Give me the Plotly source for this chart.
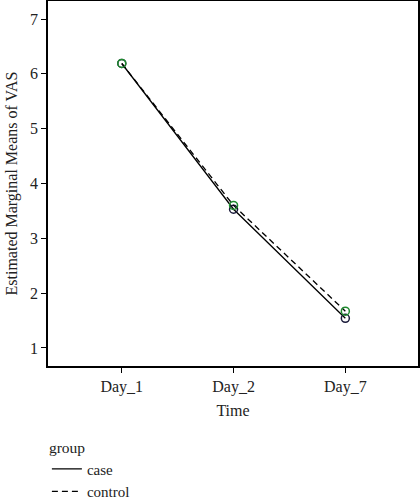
import plotly.graph_objects as go

time_labels = ["Day_1", "Day_2", "Day_7"]
case_values = [6.19, 3.53, 1.54]
control_values = [6.19, 3.60, 1.67]
y_ticks = [1, 2, 3, 4, 5, 6, 7]

FONT = "Liberation Serif"
xpos = list(range(len(time_labels)))

fig = go.Figure()
fig.add_trace(go.Scatter(
    x=xpos, y=case_values, mode="lines+markers", name="case", showlegend=False,
    line=dict(color="black", width=1.3, dash="solid"),
    marker=dict(symbol="circle-open", size=8, color="#1a1a3a", line=dict(width=1.5)),
))
fig.add_trace(go.Scatter(
    x=xpos, y=control_values, mode="lines+markers", name="control", showlegend=False,
    line=dict(color="black", width=1.3, dash="6px,4px"),
    marker=dict(symbol="circle-open", size=8, color="#1e8a2e", line=dict(width=1.5)),
))
# legend entries (line-only)
fig.add_trace(go.Scatter(x=[None], y=[None], mode="lines", name="case",
                         line=dict(color="black", width=1.3, dash="solid")))
fig.add_trace(go.Scatter(x=[None], y=[None], mode="lines", name="control",
                         line=dict(color="black", width=1.3, dash="6px,4px")))

fig.update_layout(
    width=420, height=499,
    margin=dict(l=48, r=2, t=1, b=133, autoexpand=False),
    paper_bgcolor="white", plot_bgcolor="white",
    font=dict(family=FONT, size=16, color="#222222"),
    showlegend=True,
    legend=dict(
        title=dict(text="group", side="top", font=dict(size=15.5)),
        x=-0.003, xanchor="left", y=-0.182, yanchor="top",
        orientation="v", font=dict(size=15), tracegroupgap=0,
        itemwidth=30, bgcolor="rgba(0,0,0,0)",
    ),
    xaxis=dict(
        range=[-0.66, 2.65], tickmode="array", tickvals=xpos, ticktext=time_labels,
        ticks="outside", ticklen=5, tickcolor="black", showgrid=False, zeroline=False,
        showline=True, linecolor="black", linewidth=1.5, mirror=True, automargin=False,
        title=dict(text="Time", standoff=10, font=dict(size=16)),
    ),
    yaxis=dict(
        range=[0.67, 7.33], tickmode="array", tickvals=y_ticks,
        ticks="outside", ticklen=5, tickcolor="black", showgrid=False, zeroline=False,
        showline=True, linecolor="black", linewidth=1.5, mirror=True, automargin=False,
        title=dict(text="Estimated Marginal Means of VAS", standoff=8, font=dict(size=16)),
    ),
)

fig.write_html("out.html", config={"displayModeBar": False},
               post_script="document.body.style.margin='0';document.body.style.overflow='hidden';")
